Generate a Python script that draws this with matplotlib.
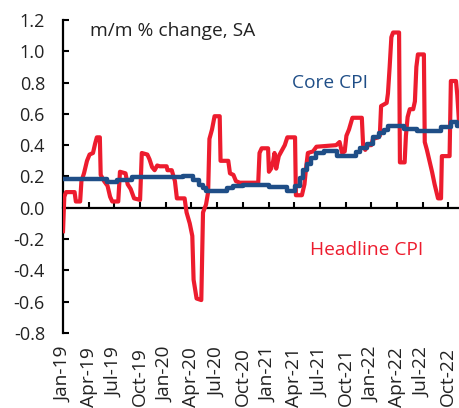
import matplotlib
matplotlib.use("Agg")
import matplotlib.pyplot as plt

# months since Jan-2019 and m/m % change
headline_m = [0.0, 0.15, 0.35, 1.35, 1.5, 2.0, 2.15, 2.45, 2.8, 3.1, 3.5, 3.75, 3.95, 4.3,
              4.4, 4.8, 5.2, 5.5, 5.75, 6.45, 6.65, 7.3, 7.55, 7.9, 8.3, 9.0, 9.2, 9.85,
              10.1, 10.4, 10.7, 11.0, 11.3, 12.1, 12.2, 12.7, 13.07, 13.3, 14.2, 14.43,
              14.8, 15.1, 15.25, 15.6, 16.15, 16.35, 16.7, 16.95, 17.1, 17.4, 17.7, 18.3,
              18.4, 19.3, 19.5, 19.9, 20.2, 20.65, 22.8, 22.95, 23.2, 23.95, 24.05, 24.3,
              24.55, 24.7, 24.9, 25.2, 25.5, 25.9, 26.2, 27.1, 27.2, 27.9, 28.2, 28.4,
              28.6, 29.2, 29.6, 31.9, 32.3, 32.6, 32.9, 33.1, 33.4, 33.8, 34.9, 35.05,
              35.3, 35.6, 36.0, 36.2, 36.8, 37.0, 37.15, 37.8, 37.95, 38.15, 38.35, 38.55,
              39.25, 39.35, 39.9, 40.05, 40.25, 40.5, 40.9, 41.1, 41.27, 41.45, 42.15,
              42.25, 42.5, 42.8, 43.1, 43.4, 43.8, 44.15, 44.25, 45.15, 45.3, 45.9, 46.05,
              46.25]
headline = [-0.15, 0.07, 0.10, 0.10, 0.04, 0.04, 0.17, 0.22, 0.30, 0.34, 0.35, 0.41, 0.45, 0.45,
            0.21, 0.17, 0.14, 0.07, 0.04, 0.04, 0.23, 0.22, 0.15, 0.12, 0.06, 0.05, 0.35, 0.34,
            0.31, 0.26, 0.24, 0.27, 0.265, 0.265, 0.24, 0.24, 0.17, 0.06, 0.06, -0.03,
            -0.10, -0.18, -0.46, -0.58, -0.59, -0.03, 0.02, 0.10, 0.44, 0.50, 0.585, 0.585,
            0.30, 0.30, 0.22, 0.21, 0.17, 0.16, 0.16, 0.35, 0.38, 0.38, 0.23, 0.25,
            0.30, 0.35, 0.25, 0.33, 0.36, 0.40, 0.45, 0.45, 0.08, 0.08, 0.15, 0.26,
            0.35, 0.36, 0.39, 0.40, 0.42, 0.35, 0.36, 0.46, 0.50, 0.575, 0.575, 0.40,
            0.37, 0.40, 0.40, 0.44, 0.45, 0.46, 0.65, 0.67, 0.73, 0.90, 1.09, 1.12,
            1.12, 0.29, 0.29, 0.46, 0.58, 0.63, 0.63, 0.68, 0.90, 0.98, 0.98,
            0.42, 0.37, 0.30, 0.23, 0.15, 0.06, 0.06, 0.33, 0.33, 0.81, 0.81, 0.72,
            0.55]

core_m = [0.0, 5.1, 6.35, 8.0, 14.0, 15.2, 15.5, 15.9, 16.3, 16.7, 19.2, 19.8, 21.0, 24.1,
          26.2, 27.1, 27.7, 28.0, 28.5, 29.0, 29.5, 30.5, 32.0, 34.2, 34.7, 35.5, 36.2,
          36.9, 37.5, 38.0, 39.8, 41.3, 44.1, 45.3, 46.0, 46.25]
core = [0.183, 0.165, 0.178, 0.197, 0.205, 0.18, 0.175, 0.145, 0.125, 0.105, 0.125, 0.14, 0.145, 0.13,
        0.11, 0.14, 0.19, 0.24, 0.28, 0.32, 0.35, 0.36, 0.33, 0.355, 0.385, 0.41, 0.45,
        0.475, 0.50, 0.52, 0.505, 0.49, 0.517, 0.545, 0.52, 0.52]

tick_m = list(range(0, 46, 3))
tick_labels = ["Jan-19", "Apr-19", "Jul-19", "Oct-19", "Jan-20", "Apr-20", "Jul-20", "Oct-20",
               "Jan-21", "Apr-21", "Jul-21", "Oct-21", "Jan-22", "Apr-22", "Jul-22", "Oct-22"]

RED = "#ED1C2E"
BLUE = "#1F4E87"
TXT = "#222222"

plt.rcParams["font.family"] = ["Open Sans", "DejaVu Sans"]

fig = plt.figure(figsize=(4.59, 4.08), dpi=100)
ax = fig.add_axes([0.1373, 0.184, 0.8627, 0.767])

ax.plot(headline_m, headline, color=RED, lw=3, solid_joinstyle="round", zorder=3)
ax.plot(core_m, core, color=BLUE, lw=3.2, drawstyle="steps-post", zorder=4)

ax.set_xlim(0, 46.25)
ax.set_ylim(-0.8, 1.2)
yt = [-0.8, -0.6, -0.4, -0.2, 0.0, 0.2, 0.4, 0.6, 0.8, 1.0, 1.2]
ax.set_yticks(yt)
ax.set_yticklabels([f"{v:.1f}" for v in yt])
ax.set_xticks(tick_m)
ax.set_xticklabels(tick_labels)

for s in ["top", "right"]:
    ax.spines[s].set_visible(False)
ax.spines["bottom"].set_position(("data", 0))
ax.spines["left"].set_linewidth(1.6)
ax.spines["bottom"].set_linewidth(1.6)

ax.tick_params(axis="y", direction="in", length=4.5, width=1.5, pad=13,
               labelsize=13, labelcolor=TXT)
ax.tick_params(axis="x", direction="in", length=4.5, width=1.5, pad=100,
               labelsize=13.8, labelcolor=TXT, labelrotation=90)
for lbl in ax.get_xticklabels():
    lbl.set_va("top")
    lbl.set_ha("center")

ax.text(3.15, 1.128, "m/m % change, SA", fontsize=13.8, color=TXT, va="center", ha="left")
ax.text(26.8, 0.80, "Core CPI", fontsize=13.8, color=BLUE, va="center", ha="left")
ax.text(28.8, -0.27, "Headline CPI", fontsize=13.8, color=RED, va="center", ha="left")

fig.savefig("out.png", dpi=100)
